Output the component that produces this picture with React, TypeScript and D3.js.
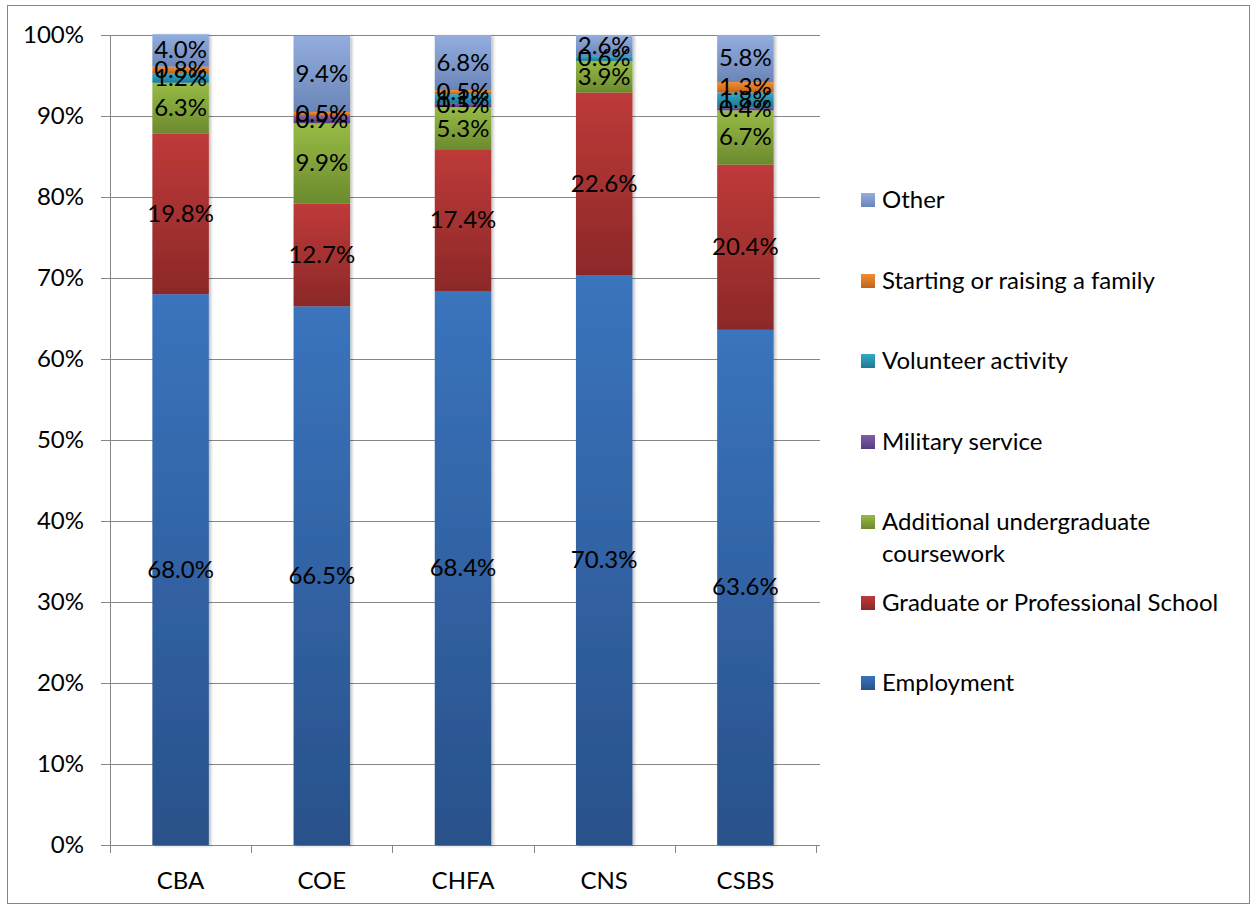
import * as d3 from "d3";

const categories = ["CBA", "COE", "CHFA", "CNS", "CSBS"];
const seriesNames = [
  "Employment",
  "Graduate or Professional School",
  "Additional undergraduate coursework",
  "Military service",
  "Volunteer activity",
  "Starting or raising a family",
  "Other",
];
const employment = [68.0, 66.5, 68.4, 70.3, 63.6];
const graduate = [19.8, 12.7, 17.4, 22.6, 20.4];
const undergrad = [6.3, 9.9, 5.3, 3.9, 6.7];
const military = [0, 0.9, 0.5, 0, 0.4];
const volunteer = [1.2, 0, 1.1, 0.6, 1.8];
const family = [0.8, 0.5, 0.5, 0, 1.3];
const other = [4.0, 9.4, 6.8, 2.6, 5.8];
const yTicks = [0, 10, 20, 30, 40, 50, 60, 70, 80, 90, 100];

// top / bottom colours of each series gradient
const colors = [
  ["#3a74bd", "#29518a"],
  ["#be3a39", "#8c2828"],
  ["#97bb45", "#6b8a2e"],
  ["#7f5fa8", "#563c7e"],
  ["#32a9c8", "#1f7893"],
  ["#f48c32", "#bf651c"],
  ["#93addf", "#6a85b7"],
];
const legendLabels = [
  ["Other"],
  ["Starting or raising a family"],
  ["Volunteer activity"],
  ["Military service"],
  ["Additional undergraduate", "coursework"],
  ["Graduate or Professional School"],
  ["Employment"],
];

const font = "Lato, 'Open Sans', sans-serif";
const fs = 24;

export default function App() {
  const margin = { left: 110, right: 816, top: 35, bottom: 845 };
  const valueLists = [employment, graduate, undergrad, military, volunteer, family, other];
  const rows = categories.map((c, i) => {
    const r: any = { cat: c };
    seriesNames.forEach((s, j) => (r[s] = valueLists[j][i]));
    return r;
  });
  const stacked = d3.stack().keys(seriesNames)(rows);

  const x = d3.scaleBand().domain(categories).range([margin.left, margin.right]).paddingInner(0.6).paddingOuter(0.3);
  const y = d3.scaleLinear().domain([0, 100]).range([margin.bottom, margin.top]);
  const step = (margin.right - margin.left) / categories.length;

  return (
    <svg width={1255} height={909} style={{ position: "absolute", left: 0, top: 0 }}>
      <defs>
        {colors.map((c, i) => (
          <linearGradient key={i} id={"g" + i} x1="0" y1="0" x2="0" y2="1">
            <stop offset="0" stopColor={c[0]} />
            <stop offset="1" stopColor={c[1]} />
          </linearGradient>
        ))}
        <filter id="sh" x="-10%" y="-2%" width="130%" height="104%">
          <feDropShadow dx="2" dy="1" stdDeviation="1.5" floodColor="#000" floodOpacity="0.25" />
        </filter>
      </defs>
      <rect x={0} y={0} width={1255} height={909} fill="#fff" />
      <rect x={7.5} y={5.5} width={1242} height={898} fill="none" stroke="#868686" strokeWidth={1} />

      {yTicks.map((t) => (
        <g key={t}>
          <line x1={margin.left - 9} x2={820} y1={Math.round(y(t)) + 0.5} y2={Math.round(y(t)) + 0.5} stroke="#868686" strokeWidth={1} />
          <text x={84} y={y(t) + 8} textAnchor="end" fontFamily={font} fontSize={fs} fill="#000">
            {t}%
          </text>
        </g>
      ))}
      <line x1={margin.left + 0.5} x2={margin.left + 0.5} y1={margin.top} y2={margin.bottom} stroke="#868686" />
      {d3.range(categories.length + 1).map((i) => (
        <line key={i} x1={Math.round(margin.left + i * step) + 0.5} x2={Math.round(margin.left + i * step) + 0.5} y1={margin.bottom} y2={margin.bottom + 8} stroke="#868686" />
      ))}
      {categories.map((c) => (
        <text key={c} x={x(c)! + x.bandwidth() / 2} y={889} textAnchor="middle" fontFamily={font} fontSize={fs} fill="#000">
          {c}
        </text>
      ))}

      <g filter="url(#sh)">
        {stacked.map((s, i) =>
          s.map((d, j) =>
            d[1] - d[0] > 0 ? (
              <rect key={i + "-" + j} x={x(categories[j])} width={x.bandwidth()} y={y(d[1])} height={y(d[0]) - y(d[1])} fill={`url(#g${i})`} />
            ) : null
          )
        )}
      </g>
      {stacked.map((s, i) =>
        s.map((d, j) =>
          d[1] - d[0] > 0 ? (
            <text key={"t" + i + "-" + j} x={x(categories[j])! + x.bandwidth() / 2} y={(y(d[0]) + y(d[1])) / 2 + 8} textAnchor="middle" fontFamily={font} fontSize={fs} fill="#000">
              {(d[1] - d[0]).toFixed(1)}%
            </text>
          ) : null
        )
      )}

      {legendLabels.map((lines, i) => {
        const yy = [200, 281, 361, 442, 522, 603, 683][i];
        const ci = colors.length - 1 - i;
        return (
          <g key={i}>
            <rect x={861} y={yy - 7} width={14} height={14} fill={`url(#g${ci})`} />
            {lines.map((l, k) => (
              <text key={k} x={882} y={yy + 8 + k * 32} fontFamily={font} fontSize={fs} fill="#000">
                {l}
              </text>
            ))}
          </g>
        );
      })}
    </svg>
  );
}
